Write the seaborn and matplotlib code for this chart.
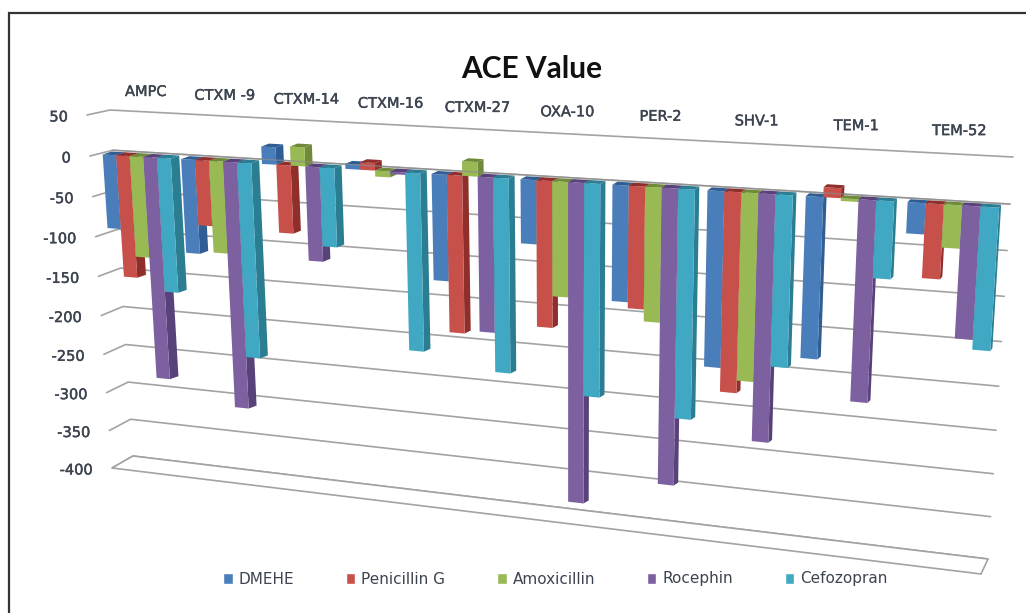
import matplotlib
matplotlib.use('Agg')
import matplotlib.patheffects as pe
import matplotlib.pyplot as plt
from matplotlib.patches import Polygon, Rectangle
from matplotlib.transforms import Affine2D, Transform
import numpy as np
import pandas as pd
import seaborn as sns

enzymes = ['AMPC', 'CTXM -9', 'CTXM-14', 'CTXM-16', 'CTXM-27',
           'OXA-10', 'PER-2', 'SHV-1', 'TEM-1', 'TEM-52']
drugs = ['DMEHE', 'Penicillin G', 'Amoxicillin', 'Rocephin', 'Cefozopran']

dmehe = [-93, -117, 21, 6, -127, -75, -135, -203, -183, -34]
penicillin = [-154, -81, -83, 9, -189, -173, -142, -231, 11, -82]
amoxicillin = [-127, -114, 23, -7, 17, -135, -156, -216, -3, -47]
rocephin = [-283, -311, -115, -3, -185, -385, -350, -286, -228, -146]
cefozopran = [-169, -244, -96, -216, -233, -252, -268, -196, -86, -157]

y_ticks = [50, 0, -50, -100, -150, -200, -250, -300, -350, -400]

face_colors = ['#4a7ebb', '#c8504b', '#98b954', '#7d60a0', '#41a8c4']
side_colors = ['#2f5d94', '#8f2e2b', '#6f8a39', '#59427a', '#2b7d92']

W, H = 1026, 613


class Warp(Transform):
    # chart plane (category, value) -> picture pixels, the chart is a tilted 3D one
    input_dims = 2
    output_dims = 2
    is_separable = False
    has_inverse = False

    def __init__(self, corners):
        super().__init__()
        src = [(-0.5, 50), (9.5, 50), (-0.5, -400), (9.5, -400)]
        rows = []
        for (x, y), (u, v) in zip(src, corners):
            rows.append([x, y, 1, 0, 0, 0, -u * x, -u * y, -u])
            rows.append([0, 0, 0, x, y, 1, -v * x, -v * y, -v])
        self.m = np.linalg.svd(np.array(rows, dtype=float))[2][-1].reshape(3, 3)

    def transform_non_affine(self, values):
        values = np.asarray(values, dtype=float)
        p = np.column_stack([values, np.ones(len(values))]) @ self.m.T
        return np.column_stack([p[:, 0] / p[:, 2], H - p[:, 1] / p[:, 2]])


wall = Warp([(110, 110), (1013, 157), (133, 456), (988, 559)])
front = Warp([(87, 115), (1005, 165), (112, 468), (981, 574)])
bar_front = Warp([(95, 114), (1009, 161), (118, 460), (984, 563)])
bar_back = Warp([(104, 111), (1011, 158), (127, 457), (986, 560)])

df = pd.DataFrame({
    'Enzyme': enzymes * 5,
    'Drug': np.repeat(drugs, 10),
    'ACE': dmehe + penicillin + amoxicillin + rocephin + cefozopran,
})

sns.set_style('white')
plt.rcParams['font.family'] = ['DejaVu Sans']

fig = plt.figure(figsize=(W / 100, H / 100), dpi=100)
ax = fig.add_axes([0, 0, 1, 1])

sns.barplot(data=df, x='Enzyme', y='ACE', hue='Drug', order=enzymes,
            hue_order=drugs, palette=face_colors, saturation=1,
            width=0.87, gap=0, errorbar=None, ax=ax)

handles, labels = ax.get_legend_handles_labels()
ax.get_legend().remove()
ax.set_axis_off()

screen = Affine2D()
text_color = '#3c4450'
thicker = [pe.withStroke(linewidth=0.3, foreground=text_color)]

# bars get tilted, with a side and a cap to look 3D
for drug_i, container in enumerate(ax.containers):
    for bar in container:
        x0, x1 = bar.get_x(), bar.get_x() + bar.get_width()
        v = bar.get_height()
        z = 3 + x0 * 0.1
        bar.set_transform(bar_front)
        bar.set_clip_on(False)
        bar.set_linewidth(0)
        bar.set_zorder(z + 0.01)

        side = np.vstack([
            bar_front.transform([(x1, 0), (x1, v)]),
            bar_back.transform([(x1, v), (x1, 0)]),
        ])
        ax.add_patch(Polygon(side, closed=True, transform=screen, clip_on=False,
                             fc=side_colors[drug_i], lw=0, zorder=z))

        level = max(v, 0)
        cap = np.vstack([
            bar_front.transform([(x0, level), (x1, level)]),
            bar_back.transform([(x1, level), (x0, level)]),
        ])
        ax.add_patch(Polygon(cap, closed=True, transform=screen, clip_on=False,
                             fc=side_colors[drug_i], lw=0, zorder=z + 0.02))

# gridlines, ticks and floor
grid = '#a3a3a3'
for tick in y_ticks:
    start = front.transform([(-0.5, tick)])[0]
    back = wall.transform([(-0.5, tick), (9.5, tick)])
    pts = np.vstack([start, back])
    ax.plot(pts[:, 0], pts[:, 1], color=grid, lw=1.2, transform=screen,
            clip_on=False, zorder=1)
    ax.text(start[0] - 19, start[1] - 2, str(tick), transform=screen, ha='right',
            va='center', fontsize=10.5, color=text_color, path_effects=thicker)

zero = wall.transform([(-0.5, 0), (9.5, 0)])
ax.plot(zero[:, 0], zero[:, 1], color='#8c8c8c', lw=1, alpha=0.7, transform=screen,
        clip_on=False, zorder=8)

floor = np.vstack([
    wall.transform([(-0.5, -400), (9.5, -400)]),
    front.transform([(9.5, -400), (-0.5, -400)]),
])
ax.add_patch(Polygon(floor, closed=True, transform=screen, clip_on=False,
                     fc='white', ec=grid, lw=1.2, zorder=1))

for i, name in enumerate(enzymes):
    ax.text(i - 0.02, 75, name, transform=wall, ha='center', va='center', fontsize=10.5,
            color=text_color, path_effects=thicker)

fig.text(532 / W, 1 - 69 / H, 'ACE Value', ha='center', va='center', fontsize=21.5,
         fontweight='bold', family='Lato', color='#111111')

fig.legend(handles, labels, ncol=5, loc='center', bbox_to_anchor=(555.5 / W, 1 - 579 / H),
           frameon=False, fontsize=11, handlelength=0.6, handleheight=0.7,
           handletextpad=0.4, columnspacing=3.4, labelcolor=text_color)

# picture frame, cut by the right and bottom edges
fig.add_artist(Rectangle((9 / W, -0.1), 1.2, 1.1 - 13.5 / H, transform=fig.transFigure,
                         fc='none', ec='#333333', lw=1.6))

fig.savefig('out.png', dpi=100)
